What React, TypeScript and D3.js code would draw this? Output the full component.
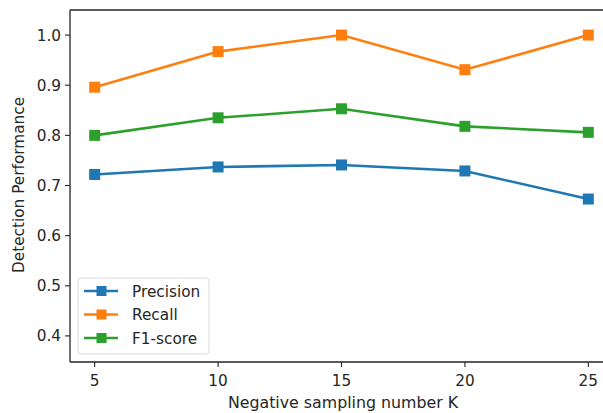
import React, { useEffect, useRef } from 'react';
import * as d3 from 'd3';

const ks = [5, 10, 15, 20, 25];
const precision = [0.722, 0.737, 0.741, 0.729, 0.673];
const recall = [0.896, 0.967, 1.0, 0.931, 1.0];
const f1 = [0.8, 0.835, 0.853, 0.818, 0.806];
const seriesNames = ['Precision', 'Recall', 'F1-score'];
const colors = ['#1f77b4', '#ff7f0e', '#2ca02c'];
const yTicks = [0.4, 0.5, 0.6, 0.7, 0.8, 0.9, 1.0];

const App = () => {
    const ref = useRef<SVGSVGElement>(null);

    useEffect(() => {
        if (!ref.current) return;
        const svg = d3.select(ref.current);
        svg.selectAll('*').remove();

        const left = 70, top = 10, bottom = 362, right = 613;
        const x = d3.scaleLinear().domain([4, 26]).range([left, right]);
        const y = d3.scaleLinear().domain([0.348, 1.05]).range([bottom, top]);
        const font = 'DejaVu Sans, sans-serif';
        const ink = '#262626';
        const fs = 15.3;

        // series
        const all = [precision, recall, f1];
        const line = d3.line<number>().x((_, i) => x(ks[i])).y(d => y(d));
        all.forEach((vals, s) => {
            const g = svg.append('g');
            g.append('path').attr('d', line(vals)).attr('fill', 'none')
                .attr('stroke', colors[s]).attr('stroke-width', 2.6);
            g.selectAll('rect').data(vals).join('rect')
                .attr('x', (_, i) => x(ks[i]) - 5.5).attr('y', d => y(d) - 5.5)
                .attr('width', 11).attr('height', 11).attr('fill', colors[s]);
        });

        // spines
        svg.append('line').attr('x1', left).attr('x2', left).attr('y1', top).attr('y2', bottom)
            .attr('stroke', ink).attr('stroke-width', 1.3);
        svg.append('line').attr('x1', left).attr('x2', right).attr('y1', bottom).attr('y2', bottom)
            .attr('stroke', ink).attr('stroke-width', 1.3);
        svg.append('line').attr('x1', left).attr('x2', right).attr('y1', top).attr('y2', top)
            .attr('stroke', ink).attr('stroke-width', 1.3);

        // x ticks
        ks.forEach(k => {
            svg.append('line').attr('x1', x(k)).attr('x2', x(k)).attr('y1', bottom).attr('y2', bottom + 5)
                .attr('stroke', ink).attr('stroke-width', 1.1);
            svg.append('text').attr('x', x(k)).attr('y', bottom + 24).attr('text-anchor', 'middle')
                .attr('font-family', font).attr('font-size', fs).attr('fill', ink).text(k);
        });
        // y ticks
        yTicks.forEach(t => {
            svg.append('line').attr('x1', left - 5).attr('x2', left).attr('y1', y(t)).attr('y2', y(t))
                .attr('stroke', ink).attr('stroke-width', 1.1);
            svg.append('text').attr('x', left - 9).attr('y', y(t)).attr('dy', '0.36em').attr('text-anchor', 'end')
                .attr('font-family', font).attr('font-size', fs).attr('fill', ink).text(t.toFixed(1));
        });

        svg.append('text').attr('x', 343).attr('y', 408).attr('text-anchor', 'middle')
            .attr('font-family', font).attr('font-size', 15.8).attr('fill', ink).text('Negative sampling number K');
        svg.append('text').attr('transform', `translate(24,185) rotate(-90)`)
            .attr('text-anchor', 'middle').attr('font-family', font).attr('font-size', 15.3).attr('fill', ink)
            .text('Detection Performance');

        // legend
        const lg = svg.append('g').attr('transform', 'translate(78,278)');
        lg.append('rect').attr('width', 131).attr('height', 76).attr('rx', 3)
            .attr('fill', 'white').attr('fill-opacity', 0.8).attr('stroke', '#d9d9d9');
        seriesNames.forEach((n, i) => {
            const cy = 13 + i * 23.5;
            lg.append('line').attr('x1', 6).attr('x2', 40).attr('y1', cy).attr('y2', cy)
                .attr('stroke', colors[i]).attr('stroke-width', 2.6);
            lg.append('rect').attr('x', 18.5).attr('y', cy - 5).attr('width', 10).attr('height', 10).attr('fill', colors[i]);
            lg.append('text').attr('x', 54).attr('y', cy).attr('dy', '0.36em')
                .attr('font-family', font).attr('font-size', fs).attr('fill', ink).text(n);
        });
    }, []);

    return (
        <svg ref={ref} width={603} height={413}
            style={{ position: 'absolute', left: 0, top: 0, background: 'white' }} />
    );
};

export default App;
